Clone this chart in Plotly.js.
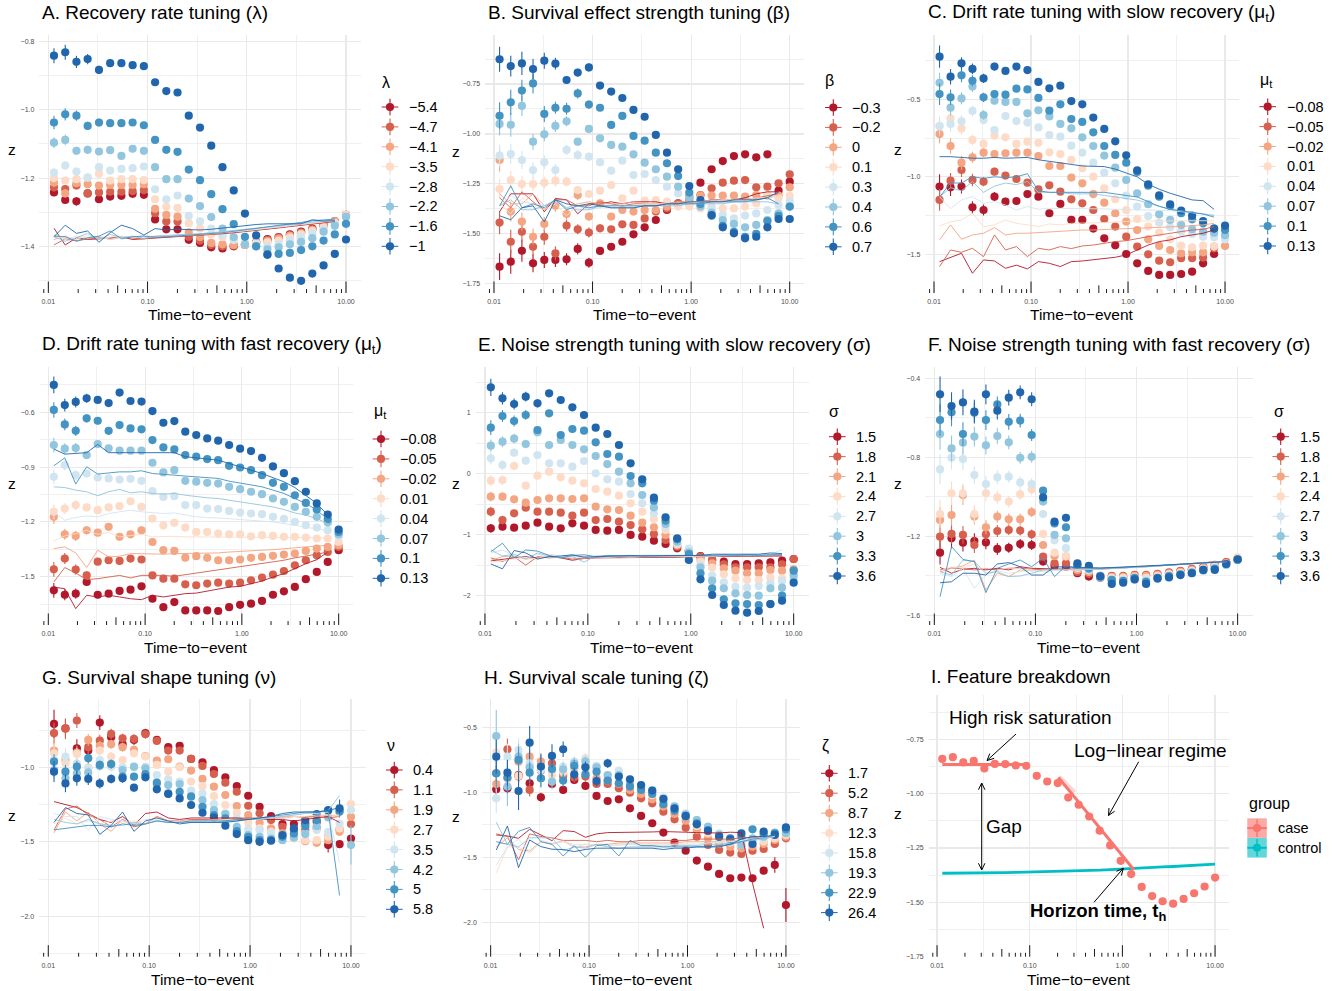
<!DOCTYPE html>
<html><head><meta charset="utf-8">
<script src="https://cdn.plot.ly/plotly-3.0.1.min.js"></script>
<style>html,body{margin:0;padding:0;background:#fff}#chart{width:1340px;height:991px}</style>
</head><body><div id="chart"></div>
<script>
// ---------------- DATA ----------------
const TIME = [0.0114,0.0148,0.0192,0.0249,0.0324,0.0420,0.0545,0.0707,0.0918,0.1191,0.1545,0.2005,0.2602,0.3377,0.4383,0.5689,0.7383,0.9581,1.243,1.614,2.094,2.718,3.527,4.577,5.940,7.709,10.0];

const LAB_A = ['−5.4','−4.7','−4.1','−3.5','−2.8','−2.2','−1.6','−1'];
const LAB_B = ['−0.3','−0.2','0','0.1','0.3','0.4','0.6','0.7'];
const LAB_C = ['−0.08','−0.05','−0.02','0.01','0.04','0.07','0.1','0.13'];
const LAB_D = ['−0.08','−0.05','−0.02','0.01','0.04','0.07','0.1','0.13'];
const LAB_E = ['1.5','1.8','2.1','2.4','2.7','3','3.3','3.6'];
const LAB_F = ['1.5','1.8','2.1','2.4','2.7','3','3.3','3.6'];
const LAB_G = ['0.4','1.1','1.9','2.7','3.5','4.2','5','5.8'];
const LAB_H = ['1.7','5.2','8.7','12.3','15.8','19.3','22.9','26.4'];
const LAB_I = ['case','control'];

const Z_A = [
[-1.242,-1.264,-1.268,-1.245,-1.262,-1.254,-1.252,-1.246,-1.249,-1.321,-1.35,-1.35,-1.381,-1.39,-1.403,-1.406,-1.40,-1.394,-1.388,-1.379,-1.373,-1.365,-1.357,-1.348,-1.338,-1.327,-1.308],
[-1.227,-1.232,-1.222,-1.245,-1.242,-1.24,-1.24,-1.238,-1.235,-1.303,-1.327,-1.327,-1.372,-1.383,-1.396,-1.40,-1.398,-1.396,-1.388,-1.381,-1.374,-1.367,-1.359,-1.35,-1.339,-1.327,-1.308],
[-1.213,-1.245,-1.215,-1.218,-1.222,-1.22,-1.22,-1.22,-1.218,-1.29,-1.308,-1.313,-1.359,-1.373,-1.39,-1.394,-1.396,-1.396,-1.391,-1.385,-1.377,-1.369,-1.362,-1.352,-1.34,-1.327,-1.308],
[-1.20,-1.207,-1.203,-1.199,-1.187,-1.207,-1.203,-1.203,-1.206,-1.262,-1.284,-1.287,-1.332,-1.348,-1.365,-1.373,-1.381,-1.388,-1.39,-1.388,-1.383,-1.374,-1.365,-1.355,-1.344,-1.331,-1.308],
[-1.184,-1.163,-1.181,-1.198,-1.168,-1.178,-1.173,-1.171,-1.166,-1.233,-1.262,-1.251,-1.311,-1.327,-1.348,-1.367,-1.381,-1.394,-1.396,-1.399,-1.394,-1.383,-1.373,-1.362,-1.35,-1.334,-1.315],
[-1.096,-1.088,-1.12,-1.117,-1.122,-1.118,-1.135,-1.114,-1.12,-1.168,-1.203,-1.203,-1.26,-1.282,-1.314,-1.348,-1.373,-1.394,-1.40,-1.409,-1.403,-1.394,-1.387,-1.376,-1.357,-1.34,-1.313],
[-1.037,-1.013,-1.017,-1.047,-1.037,-1.039,-1.039,-1.037,-1.045,-1.088,-1.117,-1.123,-1.175,-1.206,-1.247,-1.291,-1.335,-1.372,-1.40,-1.423,-1.422,-1.419,-1.411,-1.40,-1.383,-1.365,-1.334],
[-0.841,-0.831,-0.859,-0.851,-0.883,-0.863,-0.863,-0.869,-0.872,-0.919,-0.945,-0.949,-1.017,-1.052,-1.105,-1.168,-1.236,-1.304,-1.368,-1.425,-1.465,-1.492,-1.501,-1.48,-1.456,-1.422,-1.38]];
const ERR_A = [
[0.01,0.012,0.012,0.01,0.01,0.008,0.008,0.008,0.008],
[0.012,0.012,0.01,0.01,0.01,0.008,0.008,0.008,0.008],
[0.012,0.012,0.01,0.01,0.01,0.008,0.008,0.008,0.008],
[0.012,0.012,0.01,0.01,0.01,0.008,0.008,0.008,0.008],
[0.013,0.013,0.012,0.01,0.01,0.01,0.008,0.008,0.008],
[0.016,0.016,0.012,0.012,0.01,0.01,0.01,0.01,0.01],
[0.02,0.018,0.015,0.012,0.012,0.01,0.01,0.01,0.01],
[0.022,0.022,0.018,0.015,0.012,0.01,0.01,0.01,0.01]];
const CTRL_A = [
[-1.347,-1.396,-1.375,-1.38,-1.378,-1.375,-1.372,-1.38,-1.378,-1.376,-1.375,-1.372,-1.37,-1.368,-1.366,-1.363,-1.36,-1.357,-1.353,-1.35,-1.346,-1.342,-1.338,-1.334,-1.33,-1.327],
[-1.396,-1.378,-1.383,-1.38,-1.375,-1.378,-1.372,-1.376,-1.378,-1.374,-1.373,-1.371,-1.369,-1.367,-1.365,-1.362,-1.359,-1.356,-1.352,-1.349,-1.345,-1.341,-1.337,-1.333,-1.329,-1.326],
[-1.38,-1.37,-1.385,-1.375,-1.372,-1.38,-1.374,-1.373,-1.376,-1.372,-1.371,-1.37,-1.368,-1.366,-1.364,-1.361,-1.358,-1.355,-1.351,-1.348,-1.344,-1.34,-1.336,-1.332,-1.328,-1.325],
[-1.37,-1.375,-1.38,-1.368,-1.378,-1.373,-1.37,-1.375,-1.372,-1.37,-1.369,-1.368,-1.366,-1.364,-1.362,-1.36,-1.357,-1.354,-1.35,-1.347,-1.343,-1.339,-1.335,-1.331,-1.327,-1.324],
[-1.365,-1.38,-1.37,-1.375,-1.37,-1.38,-1.372,-1.371,-1.37,-1.372,-1.37,-1.369,-1.367,-1.365,-1.363,-1.36,-1.357,-1.354,-1.35,-1.346,-1.342,-1.338,-1.334,-1.33,-1.327,-1.324],
[-1.372,-1.385,-1.375,-1.362,-1.38,-1.365,-1.375,-1.37,-1.377,-1.37,-1.368,-1.367,-1.365,-1.363,-1.36,-1.357,-1.354,-1.35,-1.347,-1.343,-1.34,-1.336,-1.332,-1.328,-1.325,-1.322],
[-1.37,-1.372,-1.385,-1.375,-1.37,-1.355,-1.378,-1.372,-1.37,-1.373,-1.372,-1.37,-1.368,-1.366,-1.363,-1.36,-1.356,-1.352,-1.348,-1.344,-1.34,-1.335,-1.33,-1.325,-1.322,-1.32],
[-1.372,-1.338,-1.362,-1.355,-1.388,-1.36,-1.338,-1.348,-1.367,-1.348,-1.352,-1.35,-1.351,-1.352,-1.35,-1.346,-1.343,-1.34,-1.336,-1.334,-1.334,-1.336,-1.334,-1.322,-1.326,-1.325]];

const Z_B = [
[-1.665,-1.64,-1.585,-1.648,-1.631,-1.631,-1.628,-1.576,-1.645,-1.586,-1.565,-1.54,-1.503,-1.468,-1.431,-1.381,-1.348,-1.314,-1.244,-1.177,-1.136,-1.111,-1.102,-1.117,-1.102,-1.284,-1.239],
[-1.444,-1.54,-1.49,-1.565,-1.515,-1.598,-1.459,-1.478,-1.494,-1.473,-1.478,-1.453,-1.456,-1.423,-1.389,-1.373,-1.348,-1.331,-1.306,-1.272,-1.244,-1.234,-1.231,-1.267,-1.264,-1.247,-1.202],
[-1.13,-1.389,-1.439,-1.515,-1.451,-1.36,-1.401,-1.306,-1.414,-1.348,-1.414,-1.381,-1.389,-1.381,-1.381,-1.364,-1.356,-1.348,-1.309,-1.309,-1.309,-1.309,-1.314,-1.306,-1.309,-1.309,-1.267],
[-1.276,-1.231,-1.251,-1.251,-1.244,-1.234,-1.239,-1.281,-1.301,-1.284,-1.256,-1.323,-1.284,-1.334,-1.331,-1.339,-1.364,-1.364,-1.373,-1.364,-1.373,-1.373,-1.364,-1.348,-1.309,-1.322,-1.311],
[-1.109,-1.101,-1.131,-1.181,-1.142,-1.181,-1.08,-1.106,-1.114,-1.142,-1.184,-1.134,-1.206,-1.201,-1.231,-1.264,-1.298,-1.314,-1.348,-1.373,-1.406,-1.423,-1.409,-1.398,-1.381,-1.356,-1.339],
[-0.95,-0.954,-0.86,-1.039,-1.002,-0.96,-0.937,-1.039,-0.975,-1.022,-1.055,-1.064,-1.102,-1.144,-1.177,-1.214,-1.264,-1.319,-1.364,-1.394,-1.431,-1.451,-1.468,-1.456,-1.431,-1.398,-1.364],
[-0.909,-0.842,-0.783,-0.747,-0.90,-0.869,-0.874,-0.797,-0.853,-0.869,-0.955,-0.91,-1.01,-1.034,-1.094,-1.147,-1.211,-1.294,-1.351,-1.41,-1.46,-1.49,-1.515,-1.50,-1.436,-1.41,-1.364],
[-0.626,-0.66,-0.647,-0.675,-0.633,-0.648,-0.73,-0.693,-0.667,-0.758,-0.788,-0.82,-0.88,-0.914,-1.005,-1.094,-1.177,-1.261,-1.331,-1.406,-1.468,-1.498,-1.523,-1.515,-1.468,-1.426,-1.426]];
const ERR_B = [
[0.067,0.06,0.055,0.045,0.04,0.035,0.03,0.028,0.025,0.02,0.018],
[0.058,0.06,0.05,0.045,0.04,0.035,0.03,0.025,0.025,0.02],
[0.058,0.05,0.045,0.04,0.035,0.03,0.028,0.025,0.02,0.02],
[0.05,0.045,0.04,0.035,0.03,0.03,0.025,0.02,0.02],
[0.055,0.05,0.045,0.04,0.035,0.03,0.025,0.025,0.02],
[0.058,0.06,0.05,0.04,0.035,0.03,0.025,0.02,0.02],
[0.067,0.063,0.054,0.05,0.04,0.03,0.03,0.025,0.02,0.015],
[0.063,0.052,0.058,0.05,0.04,0.03,0.02,0.02,0.02,0.012]];
const CTRL_B = [
[-1.39,-1.30,-1.30,-1.30,-1.39,-1.323,-1.33,-1.40,-1.35,-1.35,-1.34,-1.35,-1.34,-1.34,-1.34,-1.35,-1.35,-1.34,-1.34,-1.33,-1.33,-1.33,-1.32,-1.30,-1.29,-1.29],
[-1.32,-1.37,-1.29,-1.34,-1.38,-1.33,-1.33,-1.36,-1.36,-1.34,-1.35,-1.36,-1.35,-1.35,-1.35,-1.35,-1.34,-1.34,-1.34,-1.34,-1.33,-1.33,-1.33,-1.32,-1.31,-1.30],
[-1.30,-1.35,-1.35,-1.30,-1.36,-1.34,-1.37,-1.35,-1.34,-1.35,-1.35,-1.35,-1.34,-1.35,-1.35,-1.35,-1.34,-1.34,-1.34,-1.33,-1.33,-1.33,-1.33,-1.32,-1.32,-1.31],
[-1.35,-1.40,-1.32,-1.36,-1.38,-1.35,-1.41,-1.36,-1.37,-1.36,-1.36,-1.36,-1.36,-1.35,-1.35,-1.35,-1.35,-1.34,-1.34,-1.34,-1.33,-1.33,-1.33,-1.32,-1.32,-1.31],
[-1.36,-1.31,-1.34,-1.35,-1.36,-1.34,-1.37,-1.36,-1.38,-1.37,-1.36,-1.36,-1.36,-1.36,-1.36,-1.35,-1.35,-1.35,-1.34,-1.34,-1.34,-1.34,-1.33,-1.33,-1.32,-1.31],
[-1.36,-1.33,-1.38,-1.38,-1.36,-1.33,-1.37,-1.38,-1.38,-1.36,-1.37,-1.37,-1.37,-1.36,-1.36,-1.36,-1.36,-1.35,-1.35,-1.35,-1.35,-1.34,-1.34,-1.34,-1.34,-1.35],
[-1.36,-1.26,-1.37,-1.35,-1.37,-1.33,-1.38,-1.36,-1.37,-1.36,-1.36,-1.36,-1.36,-1.36,-1.36,-1.35,-1.35,-1.35,-1.35,-1.34,-1.34,-1.34,-1.34,-1.33,-1.32,-1.35],
[-1.41,-1.43,-1.37,-1.36,-1.44,-1.33,-1.35,-1.36,-1.35,-1.36,-1.37,-1.37,-1.37,-1.36,-1.36,-1.35,-1.35,-1.34,-1.34,-1.34,-1.34,-1.33,-1.33,-1.33,-1.32,-1.29]];

const Z_C = [
[-1.063,-1.068,-1.063,-1.197,-1.214,-1.128,-1.16,-1.156,-1.111,-1.128,-1.235,-1.175,-1.278,-1.278,-1.334,-1.397,-1.442,-1.498,-1.558,-1.607,-1.633,-1.633,-1.627,-1.612,-1.558,-1.498,null],
[-1.149,-1.025,-0.956,-1.02,-1.031,-0.967,-0.992,-1.014,-1.038,-1.081,-1.055,-1.096,-1.145,-1.171,-1.214,-1.272,-1.321,-1.386,-1.45,-1.50,-1.541,-1.551,-1.525,-1.525,-1.521,-1.461,null],
[-0.724,-0.801,-0.909,-0.874,-0.844,-0.853,-0.848,-0.844,-0.844,-0.866,-0.93,-0.93,-1.005,-1.042,-1.111,-1.167,-1.235,-1.289,-1.343,-1.403,-1.446,-1.472,-1.493,-1.487,-1.487,-1.45,-1.446],
[-0.672,-0.623,-0.689,-0.762,-0.788,-0.734,-0.745,-0.788,-0.773,-0.78,-0.842,-0.853,-0.891,-0.945,-0.999,-1.074,-1.145,-1.214,-1.272,-1.321,-1.36,-1.403,-1.444,-1.455,-1.444,-1.45,-1.40],
[-0.672,-0.659,-0.642,-0.575,-0.633,-0.698,-0.608,-0.64,-0.65,-0.681,-0.73,-0.741,-0.799,-0.844,-0.909,-0.973,-1.042,-1.121,-1.192,-1.253,-1.296,-1.326,-1.354,-1.369,-1.386,-1.39,-1.403],
[-0.393,-0.554,-0.494,-0.418,-0.601,-0.509,-0.517,-0.517,-0.59,-0.571,-0.61,-0.659,-0.687,-0.745,-0.801,-0.863,-0.941,-1.02,-1.106,-1.177,-1.242,-1.278,-1.31,-1.338,-1.354,-1.36,-1.377],
[-0.466,-0.487,-0.345,-0.38,-0.487,-0.466,-0.47,-0.431,-0.436,-0.491,-0.573,-0.532,-0.627,-0.646,-0.713,-0.801,-0.859,-0.909,-0.969,-1.057,-1.128,-1.188,-1.235,-1.274,-1.30,-1.334,-1.343],
[-0.225,-0.354,-0.268,-0.304,-0.365,-0.289,-0.317,-0.289,-0.311,-0.388,-0.429,-0.412,-0.511,-0.532,-0.618,-0.691,-0.771,-0.861,-0.958,-1.048,-1.119,-1.177,-1.218,-1.25,-1.285,-1.334,-1.315]];
const ERR_C = [
[0.08,0.055,0.045,0.04,0.035,0.03,0.025,0.02,0.02],
[0.07,0.05,0.045,0.04,0.03,0.025,0.02,0.02,0.02],
[0.06,0.05,0.045,0.035,0.03,0.025,0.02,0.02,0.02],
[0.06,0.05,0.04,0.035,0.03,0.025,0.02,0.02,0.02],
[0.06,0.05,0.04,0.035,0.03,0.025,0.02,0.02,0.02],
[0.065,0.05,0.04,0.035,0.03,0.025,0.02,0.02,0.02],
[0.07,0.05,0.045,0.035,0.03,0.025,0.02,0.02,0.02],
[0.072,0.05,0.04,0.035,0.03,0.025,0.02,0.02,0.02]];
const CTRL_C = [
[-1.547,-1.519,-1.493,-1.622,-1.536,-1.543,-1.59,-1.57,-1.594,-1.547,-1.558,-1.579,-1.547,-1.543,-1.536,-1.526,-1.519,-1.504,-1.472,-1.44,-1.418,-1.407,-1.386,-1.375,-1.364,-1.343],
[-1.579,-1.472,-1.487,-1.461,-1.515,-1.375,-1.472,-1.45,-1.515,-1.461,-1.472,-1.45,-1.463,-1.446,-1.44,-1.429,-1.418,-1.412,-1.397,-1.386,-1.375,-1.364,-1.354,-1.343,-1.339,-1.321],
[-1.407,-1.31,-1.403,-1.375,-1.364,-1.328,-1.375,-1.364,-1.364,-1.36,-1.354,-1.349,-1.349,-1.343,-1.343,-1.339,-1.336,-1.334,-1.332,-1.33,-1.328,-1.325,-1.32,-1.315,-1.31,-1.30],
[-1.317,-1.29,-1.278,-1.235,-1.321,-1.31,-1.278,-1.30,-1.31,-1.321,-1.304,-1.31,-1.30,-1.30,-1.297,-1.295,-1.29,-1.288,-1.285,-1.284,-1.283,-1.282,-1.282,-1.282,-1.283,-1.283],
[-1.128,-1.205,-1.149,-1.128,-1.171,-1.16,-1.182,-1.214,-1.192,-1.209,-1.203,-1.203,-1.203,-1.203,-1.205,-1.207,-1.209,-1.21,-1.212,-1.214,-1.216,-1.218,-1.225,-1.23,-1.238,-1.246],
[-1.13,-1.07,-1.09,-1.03,-1.10,-1.06,-1.04,-1.05,-1.03,-1.10,-1.10,-1.10,-1.11,-1.11,-1.11,-1.12,-1.13,-1.14,-1.15,-1.17,-1.19,-1.21,-1.22,-1.23,-1.24,-1.25],
[-1.13,-1.04,-1.04,-1.0,-1.01,-1.0,-1.005,-1.0,-0.98,-1.09,-1.10,-1.10,-1.10,-1.10,-1.10,-1.10,-1.11,-1.12,-1.13,-1.16,-1.19,-1.21,-1.22,-1.23,-1.24,-1.26],
[-0.87,-0.87,-0.875,-0.88,-0.88,-0.875,-0.88,-0.878,-0.875,-0.89,-0.90,-0.91,-0.924,-0.93,-0.932,-0.934,-0.95,-0.977,-1.0,-1.048,-1.08,-1.106,-1.13,-1.149,-1.154,-1.21]];

const Z_D = [
[-1.575,-1.599,-1.593,-1.529,-1.599,-1.593,-1.578,-1.571,-1.553,-1.621,-1.667,-1.639,-1.685,-1.685,-1.685,-1.688,-1.667,-1.654,-1.648,-1.633,-1.599,-1.58,-1.556,-1.514,-1.474,-1.419,-1.355],
[-1.46,-1.401,-1.461,-1.493,-1.418,-1.41,-1.414,-1.401,-1.406,-1.493,-1.511,-1.511,-1.542,-1.547,-1.538,-1.533,-1.538,-1.533,-1.52,-1.505,-1.489,-1.469,-1.438,-1.41,-1.383,-1.365,-1.337],
[-1.172,-1.268,-1.277,-1.246,-1.259,-1.227,-1.282,-1.268,-1.246,-1.31,-1.355,-1.359,-1.396,-1.388,-1.397,-1.41,-1.41,-1.406,-1.397,-1.392,-1.386,-1.379,-1.373,-1.359,-1.346,-1.337,-1.328],
[-1.145,-1.127,-1.108,-1.121,-1.136,-1.121,-1.114,-1.087,-1.118,-1.182,-1.22,-1.205,-1.231,-1.255,-1.255,-1.264,-1.268,-1.268,-1.279,-1.273,-1.277,-1.282,-1.282,-1.286,-1.291,-1.291,-1.31],
[-0.953,-0.889,-0.944,-0.935,-0.957,-0.962,-0.968,-0.964,-0.975,-1.032,-1.063,-1.059,-1.108,-1.108,-1.127,-1.13,-1.14,-1.149,-1.154,-1.158,-1.172,-1.183,-1.2,-1.218,-1.231,-1.246,-1.279],
[-0.779,-0.799,-0.796,-0.834,-0.774,-0.797,-0.81,-0.81,-0.81,-0.876,-0.929,-0.917,-0.975,-0.98,-0.986,-0.99,-1.008,-1.021,-1.035,-1.048,-1.072,-1.09,-1.118,-1.145,-1.172,-1.204,-1.268],
[-0.587,-0.666,-0.701,-0.633,-0.646,-0.701,-0.67,-0.688,-0.693,-0.752,-0.792,-0.803,-0.834,-0.843,-0.856,-0.862,-0.893,-0.902,-0.917,-0.944,-0.986,-1.008,-1.054,-1.096,-1.132,-1.185,-1.255],
[-0.45,-0.56,-0.543,-0.523,-0.532,-0.549,-0.492,-0.538,-0.541,-0.593,-0.657,-0.648,-0.706,-0.724,-0.743,-0.755,-0.779,-0.799,-0.812,-0.849,-0.896,-0.933,-0.977,-1.035,-1.099,-1.16,-1.242]];
const ERR_D = [
[0.04,0.03,0.028,0.022,0.02,0.015,0.015,0.015,0.015],
[0.04,0.03,0.028,0.022,0.02,0.015,0.015,0.015,0.015],
[0.04,0.03,0.028,0.022,0.02,0.015,0.015,0.015,0.015],
[0.04,0.03,0.028,0.022,0.02,0.015,0.015,0.015,0.015],
[0.04,0.03,0.028,0.022,0.02,0.015,0.015,0.015,0.015],
[0.04,0.03,0.028,0.022,0.02,0.015,0.015,0.015,0.015],
[0.042,0.032,0.028,0.022,0.02,0.016,0.015,0.015,0.015],
[0.046,0.035,0.03,0.025,0.02,0.018,0.015,0.015,0.015]];
const CTRL_D = [
[-1.557,-1.566,-1.675,-1.602,-1.611,-1.602,-1.611,-1.621,-1.626,-1.602,-1.611,-1.602,-1.593,-1.59,-1.58,-1.571,-1.557,-1.553,-1.538,-1.524,-1.502,-1.483,-1.456,-1.429,-1.407,-1.365],
[-1.529,-1.45,-1.48,-1.516,-1.511,-1.502,-1.493,-1.507,-1.493,-1.493,-1.493,-1.498,-1.489,-1.48,-1.474,-1.465,-1.456,-1.447,-1.438,-1.429,-1.419,-1.41,-1.397,-1.388,-1.377,-1.365],
[-1.346,-1.337,-1.37,-1.45,-1.355,-1.392,-1.388,-1.374,-1.374,-1.377,-1.377,-1.374,-1.374,-1.37,-1.37,-1.37,-1.365,-1.363,-1.359,-1.355,-1.352,-1.346,-1.341,-1.337,-1.333,-1.328],
[-1.304,-1.277,-1.264,-1.246,-1.268,-1.258,-1.282,-1.273,-1.268,-1.282,-1.279,-1.279,-1.282,-1.282,-1.282,-1.282,-1.282,-1.282,-1.286,-1.286,-1.286,-1.286,-1.286,-1.286,-1.286,-1.291],
[-1.145,-1.191,-1.176,-1.167,-1.172,-1.154,-1.145,-1.136,-1.145,-1.151,-1.154,-1.151,-1.163,-1.172,-1.176,-1.178,-1.182,-1.187,-1.191,-1.196,-1.2,-1.209,-1.218,-1.227,-1.238,-1.249],
[-1.008,-1.012,-1.026,-1.035,-1.057,-1.035,-1.022,-1.041,-1.035,-1.044,-1.048,-1.044,-1.054,-1.063,-1.068,-1.072,-1.081,-1.09,-1.103,-1.108,-1.118,-1.132,-1.151,-1.163,-1.182,-1.209],
[-0.893,-0.849,-0.993,-0.898,-0.938,-0.931,-0.926,-0.926,-0.92,-0.935,-0.938,-0.944,-0.949,-0.953,-0.957,-0.962,-0.977,-0.986,-0.995,-1.008,-1.026,-1.044,-1.072,-1.099,-1.136,-1.185],
[-0.801,-0.829,-0.825,-0.821,-0.776,-0.821,-0.821,-0.821,-0.821,-0.821,-0.821,-0.821,-0.843,-0.849,-0.856,-0.862,-0.88,-0.898,-0.913,-0.935,-0.958,-0.98,-1.012,-1.054,-1.099,-1.163]];

const Z_E = [
[-0.896,-0.869,-0.885,-0.852,-0.803,-0.869,-0.896,-0.814,-0.852,-0.923,-0.934,-0.923,-1.005,-1.033,-1.098,-1.153,-1.224,-1.27,-1.35,-1.415,-1.443,-1.481,-1.481,-1.47,-1.454,-1.426,-1.399],
[-0.623,-0.76,-0.65,-0.557,-0.623,-0.623,-0.639,-0.689,-0.639,-0.76,-0.743,-0.787,-0.842,-0.913,-0.989,-1.087,-1.197,-1.26,-1.361,-1.415,-1.486,-1.536,-1.536,-1.536,-1.536,-1.486,-1.399],
[-0.377,-0.377,-0.421,-0.475,-0.432,-0.404,-0.404,-0.415,-0.404,-0.541,-0.585,-0.596,-0.689,-0.803,-0.88,-1.005,-1.175,-1.25,-1.404,-1.47,-1.552,-1.59,-1.634,-1.634,-1.579,-1.59,-1.568],
[-0.115,-0.104,0.126,-0.197,-0.033,0.033,-0.06,-0.115,-0.158,-0.251,-0.295,-0.361,-0.486,-0.623,-0.743,-0.923,-1.158,-1.24,-1.443,-1.541,-1.65,-1.716,-1.743,-1.743,-1.705,-1.716,-1.645],
[0.251,0.142,0.344,0.213,0.306,0.169,0.169,0.115,0.208,0.005,-0.093,-0.131,-0.333,-0.486,-0.65,-0.869,-1.142,-1.23,-1.497,-1.672,-1.781,-1.852,-1.869,-1.842,-1.798,-1.754,-1.732],
[0.459,0.525,0.574,0.486,0.678,0.47,0.552,0.47,0.399,0.29,0.158,0.033,-0.158,-0.35,-0.552,-0.825,-1.115,-1.29,-1.536,-1.754,-1.88,-1.962,-1.989,-2.0,-1.88,-1.869,-1.672],
[0.754,0.945,0.863,0.962,0.716,0.989,0.634,0.732,0.705,0.514,0.322,0.279,-0.038,-0.158,-0.443,-0.77,-1.077,-1.317,-1.634,-1.88,-2.06,-2.126,-2.137,-2.153,-2.137,-2.0,-1.59],
[1.415,1.235,1.142,1.262,1.153,1.317,1.208,1.087,0.962,0.754,0.65,0.47,0.169,-0.093,-0.393,-0.716,-1.06,-1.415,-1.732,-1.989,-2.153,-2.246,-2.279,-2.251,-2.137,-2.082,-1.787]];
const ERR_E = [
[0.07,0.06,0.05,0.05,0.04,0.04,0.03,0.03,0.03],
[0.08,0.07,0.06,0.05,0.04,0.04,0.04,0.03,0.03],
[0.08,0.07,0.06,0.05,0.05,0.04,0.04,0.03,0.03],
[0.09,0.08,0.07,0.06,0.05,0.04,0.04,0.04,0.03],
[0.1,0.08,0.07,0.06,0.05,0.05,0.04,0.04,0.03],
[0.1,0.09,0.08,0.07,0.06,0.05,0.04,0.04,0.04],
[0.12,0.1,0.09,0.08,0.06,0.05,0.05,0.04,0.04],
[0.14,0.1,0.09,0.08,0.07,0.06,0.05,0.05,0.04]];
const CTRL_E = [
[-1.43,-1.40,-1.38,-1.36,-1.38,-1.36,-1.38,-1.42,-1.39,-1.38,-1.38,-1.38,-1.37,-1.37,-1.37,-1.37,-1.37,-1.36,-1.36,-1.36,-1.36,-1.35,-1.35,-1.35,-1.35,-1.35],
[-1.38,-1.44,-1.36,-1.50,-1.36,-1.38,-1.37,-1.40,-1.38,-1.37,-1.37,-1.37,-1.37,-1.36,-1.36,-1.36,-1.36,-1.36,-1.36,-1.35,-1.35,-1.35,-1.34,-1.34,-1.34,-1.34],
[-1.42,-1.36,-1.35,-1.40,-1.38,-1.36,-1.37,-1.35,-1.36,-1.37,-1.37,-1.36,-1.36,-1.37,-1.36,-1.36,-1.36,-1.36,-1.35,-1.35,-1.35,-1.34,-1.34,-1.34,-1.33,-1.33],
[-1.45,-1.42,-1.40,-1.38,-1.40,-1.32,-1.35,-1.33,-1.38,-1.36,-1.37,-1.36,-1.37,-1.36,-1.36,-1.36,-1.35,-1.35,-1.35,-1.35,-1.34,-1.34,-1.34,-1.33,-1.33,-1.32],
[-1.30,-1.25,-1.35,-1.38,-1.32,-1.37,-1.35,-1.36,-1.38,-1.36,-1.36,-1.35,-1.36,-1.35,-1.36,-1.35,-1.35,-1.35,-1.34,-1.35,-1.34,-1.34,-1.33,-1.33,-1.32,-1.25],
[-1.25,-1.35,-1.32,-1.40,-1.30,-1.35,-1.38,-1.36,-1.45,-1.35,-1.36,-1.36,-1.35,-1.35,-1.36,-1.35,-1.35,-1.34,-1.35,-1.35,-1.34,-1.34,-1.35,-1.34,-1.33,-1.33],
[-1.28,-1.14,-1.38,-1.25,-1.27,-1.34,-1.38,-1.34,-1.33,-1.36,-1.34,-1.35,-1.35,-1.34,-1.34,-1.34,-1.35,-1.34,-1.34,-1.34,-1.33,-1.34,-1.33,-1.34,-1.33,-1.33],
[-1.48,-1.56,-1.26,-1.30,-1.40,-1.36,-1.35,-1.33,-1.37,-1.36,-1.35,-1.34,-1.34,-1.35,-1.35,-1.35,-1.35,-1.34,-1.34,-1.32,-1.32,-1.33,-1.33,-1.32,-1.30,-1.31]];

const Z_F = [
[-1.283,-1.21,-1.232,-1.224,-1.231,-1.264,-1.258,-1.239,-1.244,-1.328,-1.35,-1.354,-1.387,-1.404,-1.41,-1.415,-1.41,-1.405,-1.40,-1.395,-1.387,-1.378,-1.368,-1.358,-1.347,-1.332,-1.315],
[-1.202,-1.188,-1.193,-1.244,-1.19,-1.173,-1.168,-1.171,-1.19,-1.303,-1.337,-1.337,-1.38,-1.39,-1.40,-1.40,-1.40,-1.395,-1.395,-1.39,-1.382,-1.375,-1.365,-1.355,-1.345,-1.33,-1.318],
[-1.117,-1.092,-0.991,-1.1,-1.154,-1.1,-1.114,-1.114,-1.077,-1.244,-1.30,-1.303,-1.37,-1.38,-1.40,-1.405,-1.405,-1.40,-1.40,-1.395,-1.388,-1.38,-1.37,-1.36,-1.35,-1.335,-1.315],
[-1.087,-0.982,-0.982,-1.087,-0.982,-1.003,-1.024,-0.987,-0.962,-1.188,-1.283,-1.30,-1.36,-1.372,-1.40,-1.41,-1.41,-1.405,-1.41,-1.40,-1.392,-1.385,-1.375,-1.365,-1.355,-1.34,-1.305],
[-0.861,-0.802,-0.809,-0.89,-0.935,-0.901,-0.898,-0.927,-0.935,-1.087,-1.22,-1.26,-1.355,-1.37,-1.405,-1.415,-1.42,-1.412,-1.418,-1.41,-1.398,-1.39,-1.38,-1.37,-1.36,-1.342,-1.318],
[-0.682,-0.755,-0.726,-0.695,-0.739,-0.692,-0.724,-0.802,-0.797,-1.024,-1.193,-1.21,-1.35,-1.367,-1.41,-1.425,-1.428,-1.418,-1.428,-1.415,-1.404,-1.396,-1.387,-1.374,-1.362,-1.345,-1.32],
[-0.611,-0.572,-0.682,-0.574,-0.611,-0.532,-0.62,-0.614,-0.687,-0.969,-1.135,-1.154,-1.345,-1.362,-1.401,-1.421,-1.425,-1.41,-1.43,-1.41,-1.402,-1.392,-1.384,-1.37,-1.365,-1.34,-1.318],
[-0.481,-0.54,-0.522,-0.569,-0.481,-0.564,-0.498,-0.471,-0.506,-1.003,-1.126,-1.106,-1.337,-1.35,-1.404,-1.441,-1.435,-1.418,-1.441,-1.413,-1.408,-1.396,-1.387,-1.37,-1.37,-1.34,-1.316]];
const ERR_F = [
[0.06,0.05,0.045,0.04,0.035,0.03,0.025,0.025,0.025],
[0.06,0.05,0.045,0.04,0.035,0.03,0.025,0.025,0.025],
[0.065,0.055,0.05,0.04,0.035,0.03,0.03,0.03,0.025],
[0.07,0.06,0.05,0.045,0.04,0.035,0.03,0.03,0.03],
[0.075,0.06,0.055,0.045,0.04,0.035,0.03,0.03,0.03],
[0.08,0.065,0.06,0.05,0.045,0.04,0.035,0.03,0.03],
[0.08,0.07,0.06,0.05,0.05,0.04,0.04,0.035,0.03],
[0.09,0.07,0.065,0.06,0.05,0.045,0.04,0.035,0.035]];
const CTRL_F = [
[-1.357,-1.387,-1.367,-1.362,-1.37,-1.362,-1.37,-1.354,-1.362,-1.365,-1.365,-1.367,-1.367,-1.367,-1.365,-1.363,-1.36,-1.357,-1.354,-1.35,-1.346,-1.342,-1.338,-1.334,-1.33,-1.325],
[-1.37,-1.36,-1.365,-1.37,-1.365,-1.37,-1.362,-1.36,-1.368,-1.368,-1.366,-1.366,-1.366,-1.365,-1.364,-1.362,-1.36,-1.357,-1.354,-1.35,-1.346,-1.342,-1.338,-1.334,-1.33,-1.326],
[-1.38,-1.362,-1.35,-1.32,-1.472,-1.387,-1.404,-1.37,-1.375,-1.37,-1.37,-1.368,-1.368,-1.367,-1.365,-1.362,-1.36,-1.357,-1.353,-1.349,-1.345,-1.341,-1.337,-1.333,-1.329,-1.326],
[-1.375,-1.355,-1.36,-1.34,-1.39,-1.37,-1.36,-1.365,-1.37,-1.375,-1.372,-1.37,-1.369,-1.368,-1.366,-1.363,-1.36,-1.357,-1.354,-1.35,-1.346,-1.342,-1.338,-1.334,-1.33,-1.327],
[-1.387,-1.404,-1.362,-1.463,-1.396,-1.374,-1.387,-1.379,-1.37,-1.379,-1.372,-1.37,-1.369,-1.368,-1.366,-1.363,-1.36,-1.357,-1.354,-1.35,-1.346,-1.342,-1.338,-1.334,-1.33,-1.328],
[-1.379,-1.396,-1.32,-1.328,-1.387,-1.379,-1.404,-1.401,-1.387,-1.37,-1.367,-1.37,-1.37,-1.368,-1.366,-1.363,-1.36,-1.357,-1.354,-1.35,-1.346,-1.342,-1.338,-1.334,-1.331,-1.328],
[-1.506,-1.252,-1.317,-1.328,-1.485,-1.362,-1.34,-1.32,-1.354,-1.311,-1.404,-1.35,-1.36,-1.362,-1.362,-1.36,-1.358,-1.355,-1.352,-1.349,-1.346,-1.342,-1.338,-1.334,-1.331,-1.328],
[-1.435,-1.43,-1.387,-1.387,-1.396,-1.34,-1.333,-1.354,-1.396,-1.396,-1.354,-1.355,-1.358,-1.36,-1.36,-1.358,-1.356,-1.353,-1.35,-1.347,-1.344,-1.34,-1.337,-1.334,-1.331,-1.328]];

const Z_G = [
[-0.709,-0.738,-0.872,-0.888,-0.70,-0.798,-0.845,-0.816,-0.771,-0.816,-0.865,-0.856,-0.944,-0.966,-1.018,-1.067,-1.126,-1.191,-1.265,-1.327,-1.381,-1.381,-1.377,-1.365,-1.522,-1.516,-1.478],
[-0.771,-0.742,-0.686,-0.865,-0.821,-0.776,-0.805,-0.809,-0.778,-0.823,-0.888,-0.888,-0.944,-0.991,-1.045,-1.103,-1.164,-1.258,-1.309,-1.354,-1.399,-1.421,-1.421,-1.41,-1.466,-1.415,-1.381],
[-0.888,-0.951,-0.901,-0.816,-0.856,-0.845,-0.865,-0.883,-0.924,-0.955,-0.946,-0.996,-1.022,-1.078,-1.13,-1.186,-1.26,-1.321,-1.372,-1.41,-1.444,-1.466,-1.496,-1.507,-1.489,-1.433,-1.332],
[-0.906,-0.973,-0.91,-1.0,-0.888,-0.928,-0.951,-0.906,-0.928,-0.984,-1.029,-1.0,-1.096,-1.126,-1.193,-1.253,-1.305,-1.372,-1.41,-1.433,-1.466,-1.478,-1.489,-1.489,-1.466,-1.41,-1.247],
[-0.951,-0.928,-0.973,-1.007,-0.951,-0.996,-1.0,-1.0,-0.996,-1.052,-1.081,-1.096,-1.157,-1.175,-1.247,-1.309,-1.343,-1.417,-1.421,-1.444,-1.455,-1.455,-1.444,-1.421,-1.433,-1.377,-1.287],
[-1.018,-1.074,-1.04,-1.036,-0.991,-0.978,-1.018,-0.996,-1.007,-1.112,-1.119,-1.112,-1.193,-1.22,-1.287,-1.314,-1.399,-1.455,-1.466,-1.478,-1.489,-1.471,-1.448,-1.395,-1.336,-1.291,-1.522],
[-0.962,-1.029,-0.996,-0.939,-0.984,-0.978,-1.063,-1.063,-1.045,-1.103,-1.175,-1.164,-1.197,-1.265,-1.321,-1.343,-1.428,-1.466,-1.489,-1.489,-1.466,-1.444,-1.395,-1.354,-1.291,-1.298,null],
[-1.029,-1.108,-1.074,-1.078,-1.108,-1.078,-1.074,-1.137,-1.067,-1.148,-1.179,-1.209,-1.253,-1.305,-1.336,-1.392,-1.448,-1.489,-1.50,-1.493,-1.455,-1.41,-1.354,-1.314,-1.287,-1.276,null]];
const ERR_G = [
[0.095,0.06,0.06,0.05,0.05,0.04,0.04,0.035,0.03,null,null,null,null,null,null,null,null,null,null,null,null,null,null,null,0.05],
[0.07,0.07,0.05,0.045,0.04,0.035,0.03,0.03,0.03],
[0.06,0.05,0.045,0.04,0.035,0.03,0.03,0.03,0.025],
[0.05,0.045,0.04,0.035,0.03,0.03,0.025,0.025,0.02],
[0.05,0.06,0.04,0.035,0.03,0.03,0.025,0.025,0.02],
[0.05,0.045,0.04,0.035,0.03,0.03,0.025,0.025,0.02,null,null,null,null,null,null,null,null,null,null,null,null,null,null,null,null,null,0.13],
[0.05,0.045,0.04,0.035,0.03,0.03,0.025,0.025,0.02],
[0.07,0.06,0.05,0.04,0.035,0.03,0.03,0.025,0.025,null,null,null,null,null,null,null,null,null,null,null,null,null,null,null,null,0.06]];
const CTRL_G = [
[-1.23,-1.25,-1.27,-1.31,-1.35,-1.37,-1.33,-1.39,-1.31,-1.30,-1.34,-1.35,-1.34,-1.34,-1.34,-1.34,-1.34,-1.35,-1.35,-1.35,-1.35,-1.36,-1.35,-1.34,-1.33,-1.37],
[-1.42,-1.28,-1.26,-1.32,-1.35,-1.40,-1.35,-1.40,-1.38,-1.33,-1.36,-1.36,-1.35,-1.35,-1.35,-1.35,-1.34,-1.34,-1.34,-1.34,-1.34,-1.33,-1.33,-1.33,-1.34,-1.33],
[-1.44,-1.30,-1.36,-1.30,-1.38,-1.43,-1.35,-1.38,-1.38,-1.33,-1.36,-1.36,-1.36,-1.36,-1.35,-1.35,-1.35,-1.35,-1.34,-1.34,-1.33,-1.33,-1.34,-1.33,-1.32,-1.33],
[-1.38,-1.34,-1.38,-1.36,-1.38,-1.36,-1.37,-1.36,-1.38,-1.35,-1.37,-1.36,-1.36,-1.36,-1.36,-1.35,-1.35,-1.35,-1.34,-1.34,-1.34,-1.33,-1.33,-1.32,-1.32,-1.32],
[-1.31,-1.33,-1.33,-1.42,-1.33,-1.35,-1.36,-1.38,-1.35,-1.36,-1.36,-1.37,-1.37,-1.36,-1.36,-1.36,-1.36,-1.35,-1.35,-1.34,-1.33,-1.32,-1.31,-1.31,-1.30,-1.64],
[-1.35,-1.37,-1.38,-1.35,-1.38,-1.39,-1.39,-1.37,-1.38,-1.36,-1.37,-1.37,-1.37,-1.37,-1.37,-1.36,-1.36,-1.35,-1.35,-1.34,-1.33,-1.32,-1.31,-1.30,-1.29,-1.19],
[-1.42,-1.41,-1.40,-1.39,-1.39,-1.40,-1.38,-1.39,-1.38,-1.36,-1.37,-1.37,-1.36,-1.36,-1.36,-1.36,-1.35,-1.35,-1.34,-1.33,-1.32,-1.31,-1.30,-1.30,-1.29,-1.86],
[-1.37,-1.27,-1.31,-1.32,-1.45,-1.39,-1.30,-1.43,-1.36,-1.34,-1.36,-1.38,-1.37,-1.37,-1.37,-1.37,-1.36,-1.35,-1.34,-1.33,-1.31,-1.30,-1.30,-1.30,-1.29,-1.27]];

const Z_H = [
[-0.977,-0.969,-0.867,-0.931,-1.038,-0.936,-0.982,-0.905,-0.951,-1.028,-1.067,-1.054,-1.123,-1.182,-1.238,-1.31,-1.387,-1.449,-1.525,-1.572,-1.628,-1.661,-1.656,-1.661,-1.603,-1.559,-1.867],
[-0.854,-0.669,-0.879,-0.982,-0.833,-0.777,-0.874,-0.885,-0.879,-0.936,-0.936,-0.969,-1.003,-1.046,-1.085,-1.149,-1.208,-1.272,-1.341,-1.405,-1.444,-1.464,-1.474,-1.449,-1.436,-1.397,-1.354],
[-0.936,-0.892,-0.764,-0.726,-0.764,-0.828,-0.854,-0.815,-0.797,-0.892,-0.91,-0.936,-0.982,-1.013,-1.054,-1.11,-1.167,-1.218,-1.29,-1.354,-1.397,-1.418,-1.431,-1.418,-1.397,-1.367,-1.341],
[-0.695,-0.90,-0.874,-0.803,-0.823,-0.867,-0.841,-0.808,-0.738,-0.803,-0.867,-0.867,-0.944,-0.977,-1.021,-1.072,-1.136,-1.187,-1.259,-1.315,-1.367,-1.387,-1.405,-1.392,-1.379,-1.354,-1.328],
[-1.046,-0.726,-0.674,-0.777,-0.828,-0.828,-0.803,-0.764,-0.746,-0.797,-0.879,-0.833,-0.905,-0.944,-0.982,-1.038,-1.105,-1.162,-1.213,-1.277,-1.315,-1.354,-1.379,-1.362,-1.354,-1.328,-1.303],
[-0.567,-0.956,-0.726,-0.808,-0.892,-0.918,-0.823,-0.777,-0.764,-0.808,-0.867,-0.867,-0.931,-0.962,-0.995,-1.054,-1.11,-1.169,-1.213,-1.264,-1.328,-1.379,-1.405,-1.354,-1.341,-1.31,-1.315],
[-0.854,-0.887,-0.751,-0.849,-0.892,-0.82,-0.91,-0.797,-0.862,-0.841,-0.91,-0.931,-0.956,-0.982,-1.013,-1.092,-1.141,-1.187,-1.238,-1.29,-1.341,-1.354,-1.341,-1.285,-1.32,-1.315,-1.285],
[-0.726,-0.849,-0.99,-0.618,-0.802,-0.72,-0.669,-0.861,-0.808,-0.913,-0.777,-0.879,-0.9,-0.944,-0.987,-1.051,-1.123,-1.182,-1.246,-1.297,-1.341,-1.361,-1.315,-1.397,-1.302,-1.328,-1.269]];
const ERR_H = [
[0.04,0.04,0.05,0.04,0.035,0.03,0.03,0.03,0.03,null,null,null,null,null,null,null,null,null,null,null,null,null,null,null,null,0.06,0.13],
[0.06,0.08,0.05,0.05,0.05,0.04,0.04,0.04,0.04],
[0.06,0.07,0.06,0.05,0.05,0.04,0.04,0.04,0.04],
[0.07,0.08,0.07,0.06,0.05,0.045,0.04,0.04,0.04],
[0.115,0.1,0.09,0.07,0.06,0.05,0.045,0.04,0.04],
[0.2,0.15,0.1,0.08,0.07,0.06,0.05,0.045,0.04],
[0.12,0.12,0.1,0.08,0.07,0.06,0.05,0.045,0.04],
[0.13,0.1,0.147,0.128,0.1,0.09,0.06,0.05,0.045,0.04,0.035,0.03]];
const CTRL_H = [
[-1.328,-1.336,-1.354,-1.285,-1.328,-1.372,-1.295,-1.302,-1.346,-1.32,-1.31,-1.31,-1.31,-1.305,-1.305,-1.302,-1.302,-1.307,-1.31,-1.31,-1.313,-1.307,-1.31,-1.70,-2.046],
[-1.32,-1.34,-1.52,-1.32,-1.34,-1.35,-1.37,-1.37,-1.37,-1.38,-1.37,-1.38,-1.38,-1.37,-1.37,-1.37,-1.37,-1.37,-1.36,-1.36,-1.36,-1.36,-1.35,-1.35,-1.35,-1.34],
[-1.42,-1.35,-1.44,-1.45,-1.38,-1.40,-1.37,-1.42,-1.42,-1.40,-1.40,-1.39,-1.39,-1.39,-1.39,-1.39,-1.39,-1.38,-1.38,-1.38,-1.38,-1.37,-1.37,-1.36,-1.35,-1.34],
[-1.62,-1.42,-1.42,-1.47,-1.38,-1.40,-1.38,-1.40,-1.40,-1.40,-1.41,-1.41,-1.40,-1.40,-1.40,-1.40,-1.40,-1.39,-1.39,-1.39,-1.38,-1.38,-1.37,-1.36,-1.35,-1.34],
[-1.56,-1.42,-1.36,-1.46,-1.37,-1.39,-1.38,-1.42,-1.40,-1.41,-1.41,-1.40,-1.40,-1.41,-1.41,-1.41,-1.40,-1.40,-1.40,-1.39,-1.39,-1.38,-1.37,-1.36,-1.35,-1.33],
[-1.23,-1.40,-1.42,-1.35,-1.35,-1.35,-1.45,-1.42,-1.43,-1.40,-1.42,-1.43,-1.42,-1.42,-1.42,-1.42,-1.41,-1.41,-1.41,-1.40,-1.40,-1.39,-1.38,-1.37,-1.36,-1.34],
[-1.38,-1.40,-1.30,-1.27,-1.38,-1.40,-1.49,-1.41,-1.50,-1.41,-1.40,-1.49,-1.37,-1.41,-1.41,-1.42,-1.42,-1.42,-1.42,-1.42,-1.41,-1.40,-1.38,-1.36,-1.35,-1.33],
[-1.444,-1.259,-1.58,-1.367,-1.418,-1.438,-1.44,-1.456,-1.44,-1.43,-1.43,-1.43,-1.43,-1.43,-1.43,-1.44,-1.43,-1.43,-1.42,-1.42,-1.42,-1.40,-1.36,-1.34,-1.34,-1.33]];

const Z_I_CASE = [-0.84,-0.832,-0.856,-0.849,-0.884,-0.863,-0.864,-0.87,-0.872,-0.918,-0.944,-0.951,-1.018,-1.051,-1.105,-1.17,-1.238,-1.309,-1.37,-1.429,-1.471,-1.495,-1.506,-1.484,-1.458,-1.427,-1.386];
const Z_I_CONTROL = [-1.366,-1.366,-1.365,-1.365,-1.364,-1.364,-1.363,-1.362,-1.361,-1.360,-1.359,-1.358,-1.357,-1.356,-1.354,-1.352,-1.349,-1.346,-1.343,-1.341,-1.339,-1.337,-1.335,-1.332,-1.330,-1.327,-1.324];
const FIT_FLAT_T = [0.0114, 0.0918];
const FIT_FLAT_Z = [-0.866, -0.866];
const FIT_SLOPE_T = [0.204, 1.33];
const FIT_SLOPE_Z = [-0.925, -1.35];
const FIT_BAND_T = [0.204, 0.30];
const FIT_BAND_Z = [-0.925, -0.996];

// ---------------- STYLE / LAYOUT ----------------
const W = 1340, H = 991;
const FONT = 'Liberation Sans, Arial, Helvetica, sans-serif';
const PAL = ['#B2182B','#D6604D','#F4A582','#FDDBC7','#D1E5F0','#92C5DE','#4393C3','#2166AC'];
const GRID = '#E9E9E9';
const XR = [-2.09, 1.147];
const CASE_COL = '#F8766D', CTRL_COL = '#00BFC4';
const MSIZE = 8.2;

const PANELS = [
 {title:'A. Recovery rate tuning (λ)', leg:'λ', labels:LAB_A, z:Z_A, err:ERR_A, ctrl:CTRL_A,
  x0:39.4, x1:360.6, top:35, bot:293, yr:[-1.5368,-0.7805], dtick:0.2, tick0:-0.8, fmt:'.1f',
  keyX:390, legY:107, legTX:380, legTY:82, zx:12.3, zy:150, ttlY:13, xtY:314.3},
 {title:'B. Survival effect strength tuning (β)', leg:'β', labels:LAB_B, z:Z_B, err:ERR_B, ctrl:CTRL_B,
  x0:485.1, x1:804.2, top:35, bot:293, yr:[-1.7967,-0.5046], dtick:0.25, tick0:-0.75, fmt:'.2f',
  keyX:833.3, legY:107.5, legTX:823, legTY:80, zx:455.7, zy:151.5, ttlY:13, xtY:314.3},
 {title:'C. Drift rate tuning with slow recovery (μ<sub>t</sub>)', leg:'μ<sub>t</sub>', labels:LAB_C, z:Z_C, err:ERR_C, ctrl:CTRL_C,
  x0:925.3, x1:1239.3, top:35, bot:293, yr:[-1.7495,-0.085], dtick:0.5, tick0:-0.5, fmt:'.1f',
  keyX:1267.7, legY:106.7, legTX:1258, legTY:80, zx:898.3, zy:150, ttlY:13, xtY:314.3},
 {title:'D. Drift rate tuning with fast recovery (μ<sub>t</sub>)', leg:'μ<sub>t</sub>', labels:LAB_D, z:Z_D, err:ERR_D, ctrl:CTRL_D,
  x0:39.6, x1:352.9, top:367, bot:625, yr:[-1.7647,-0.3517], dtick:0.3, tick0:-0.6, fmt:'.1f',
  keyX:381, legY:439, legTX:372, legTY:412, zx:12.3, zy:483, ttlY:345, xtY:647.3},
 {title:'E. Noise strength tuning with slow recovery (σ)', leg:'σ', labels:LAB_E, z:Z_E, err:ERR_E, ctrl:CTRL_E,
  x0:475.7, x1:808.8, top:367, bot:625, yr:[-2.4808,1.7486], dtick:1, tick0:0, fmt:'',
  keyX:837.3, legY:436.7, legTX:827, legTY:412, zx:455.7, zy:483, ttlY:345, xtY:647.3},
 {title:'F. Noise strength tuning with fast recovery (σ)', leg:'σ', labels:LAB_F, z:Z_F, err:ERR_F, ctrl:CTRL_F,
  x0:925.2, x1:1252.5, top:367, bot:625, yr:[-1.649,-0.3426], dtick:0.4, tick0:-0.4, fmt:'.1f',
  keyX:1280.7, legY:436.7, legTX:1272, legTY:412, zx:898.3, zy:483, ttlY:345, xtY:647.3},
 {title:'G. Survival shape tuning (ν)', leg:'ν', labels:LAB_G, z:Z_G, err:ERR_G, ctrl:CTRL_G,
  x0:39.2, x1:365.8, top:699.3, bot:956.7, yr:[-2.271,-0.5436], dtick:0.5, tick0:-1.0, fmt:'.1f',
  keyX:394.3, legY:770, legTX:385, legTY:745, zx:12.3, zy:815, ttlY:677, xtY:979.3},
 {title:'H. Survival scale tuning (ζ)', leg:'ζ', labels:LAB_H, z:Z_H, err:ERR_H, ctrl:CTRL_H,
  x0:481.8, x1:800.4, top:699.3, bot:956.7, yr:[-2.2646,-0.2846], dtick:0.5, tick0:-0.5, fmt:'.1f',
  keyX:829.3, legY:773.3, legTX:820, legTY:746, zx:455.7, zy:816, ttlY:677, xtY:979.3},
 {title:'I. Feature breakdown', leg:null,
  x0:928.7, x1:1228.7, top:695, bot:956.7, yr:[-1.75,-0.546], dtick:0.25, tick0:-0.75, fmt:'.2f',
  zx:898.3, zy:813, ttlY:676, xtY:979.3}
];

const px = x => x / W;
const py = y => 1 - y / H;
const traces = [];
const shapes = [];
const annotations = [];
const layout = {
  width: W, height: H, margin: {l:0, r:0, t:0, b:0},
  paper_bgcolor: '#ffffff', plot_bgcolor: 'rgba(0,0,0,0)',
  showlegend: false, font: {family: FONT, color: '#000'},
  shapes: shapes, annotations: annotations
};

function seg(x0, y0, x1, y1, color, width) {
  shapes.push({type:'line', xref:'paper', yref:'paper', x0:px(x0), y0:py(y0), x1:px(x1), y1:py(y1),
    line:{color:color || '#000', width: width || 1}, layer:'above'});
}
function text(str, x, y, size, opts) {
  annotations.push(Object.assign({text:str, xref:'paper', yref:'paper', x:px(x), y:py(y),
    xanchor:'left', yanchor:'middle', showarrow:false, font:{size:size, family:FONT, color:'#000'}}, opts || {}));
}
function arrowHead(xa, ya, xb, yb) {
  const ang = Math.atan2(yb - ya, xb - xa), L = 7.5, a = Math.PI / 7;
  [-1, 1].forEach(s => seg(xb, yb, xb - L * Math.cos(ang + s * a), yb - L * Math.sin(ang + s * a), '#000', 1));
}
function arrow(x0, y0, x1, y1, both) {
  seg(x0, y0, x1, y1, '#000', 1);
  arrowHead(x0, y0, x1, y1);
  if (both) arrowHead(x1, y1, x0, y0);
}

PANELS.forEach((p, idx) => {
  const n = idx + 1;
  const xa = n === 1 ? 'x' : 'x' + n, ya = n === 1 ? 'y' : 'y' + n;
  const xk = n === 1 ? 'xaxis' : 'xaxis' + n, yk = n === 1 ? 'yaxis' : 'yaxis' + n;
  layout[xk] = {
    type:'log', domain:[px(p.x0), px(p.x1)], range:XR, anchor:ya,
    tickmode:'array', tickvals:[0.01, 0.1, 1, 10], ticktext:['0.01','0.10','1.00','10.00'],
    ticks:'', showline:false, zeroline:false, showgrid:true, gridcolor:GRID, gridwidth:1.2,
    minor:{tickmode:'array', tickvals:[0.03162, 0.3162, 3.162], showgrid:true, gridcolor:GRID, gridwidth:0.7, ticks:''},
    tickfont:{size:7, color:'#4d4d4d', family:FONT}, ticklabelstandoff:3, fixedrange:true
  };
  layout[yk] = {
    domain:[py(p.bot), py(p.top)], range:p.yr, anchor:xa,
    tickmode:'linear', tick0:p.tick0, dtick:p.dtick, tickformat:p.fmt,
    ticks:'', showline:false, zeroline:false, showgrid:true, gridcolor:GRID, gridwidth:1.2,
    minor:{tick0:p.tick0, dtick:p.dtick / 2, showgrid:true, gridcolor:GRID, gridwidth:0.7, ticks:''},
    tickfont:{size:7, color:'#4d4d4d', family:FONT}, ticklabelstandoff:4, fixedrange:true
  };

  // titles
  text(p.title, p.x0 + 0.5, p.ttlY, 19);
  text('z', p.zx, p.zy, 15.5, {xanchor:'center'});
  text('Time−to−event', (p.x0 + p.x1) / 2, p.xtY, 15.5, {xanchor:'center'});

  // log ticks (annotation_logticks style)
  const xpaper = v => px(p.x0) + (Math.log10(v) - XR[0]) / (XR[1] - XR[0]) * (px(p.x1) - px(p.x0));
  for (let d = -3; d <= 1; d++) {
    for (let m = 1; m <= 9; m++) {
      const v = m * Math.pow(10, d), lv = Math.log10(v);
      if (lv < XR[0] || lv > XR[1]) continue;
      const len = m === 1 ? 11.5 : (m === 5 ? 7.7 : 3.9);
      shapes.push({type:'line', xref:'paper', yref:'paper', x0:xpaper(v), x1:xpaper(v),
        y0:py(p.bot), y1:py(p.bot - len), line:{color:'#000', width:0.9}, layer:'above'});
    }
  }

  if (p.z) {
    // point ranges
    p.z.forEach((ys, i) => {
      traces.push({type:'scatter', mode:'markers', x:TIME, y:ys, xaxis:xa, yaxis:ya,
        hoverinfo:'skip', cliponaxis:false,
        marker:{size:MSIZE, color:PAL[i], line:{width:0}},
        error_y:{type:'data', array:p.err[i], visible:true, color:PAL[i], thickness:1.1, width:0}});
    });
    // control lines
    p.ctrl.forEach((ys, i) => {
      traces.push({type:'scatter', mode:'lines', x:TIME.slice(0, ys.length), y:ys, xaxis:xa, yaxis:ya,
        hoverinfo:'skip', line:{color:PAL[i], width:0.9}});
    });
    // legend (drawn as key glyphs + text)
    text(p.leg, p.legTX, p.legTY, 16);
    p.labels.forEach((lab, i) => {
      const cy = p.legY + i * 19.9, cx = p.keyX;
      seg(cx - 8.3, cy, cx + 8.3, cy, PAL[i], 1);
      seg(cx, cy - 8.3, cx, cy + 8.3, PAL[i], 1.1);
      shapes.push({type:'circle', xref:'paper', yref:'paper', x0:px(cx - 4.1), x1:px(cx + 4.1),
        y0:py(cy + 4.1), y1:py(cy - 4.1), fillcolor:PAL[i], line:{width:0}, layer:'above'});
      text(lab, cx + 17, cy, 14.5);
    });
  } else {
    // Panel I
    traces.push({type:'scatter', mode:'lines', x:TIME, y:Z_I_CONTROL, xaxis:xa, yaxis:ya,
      hoverinfo:'skip', line:{color:CTRL_COL, width:2.8}});
    traces.push({type:'scatter', mode:'lines', x:FIT_BAND_T, y:FIT_BAND_Z, xaxis:xa, yaxis:ya,
      hoverinfo:'skip', line:{color:'rgba(248,118,109,0.3)', width:6}});
    traces.push({type:'scatter', mode:'lines', x:FIT_FLAT_T, y:FIT_FLAT_Z, xaxis:xa, yaxis:ya,
      hoverinfo:'skip', line:{color:CASE_COL, width:3}});
    traces.push({type:'scatter', mode:'lines', x:FIT_SLOPE_T, y:FIT_SLOPE_Z, xaxis:xa, yaxis:ya,
      hoverinfo:'skip', line:{color:CASE_COL, width:3}});
    traces.push({type:'scatter', mode:'markers', x:TIME, y:Z_I_CASE, xaxis:xa, yaxis:ya,
      hoverinfo:'skip', marker:{size:MSIZE, color:CASE_COL, line:{width:0}}});

    text('High risk saturation', 946.7, 717.3, 19);
    text('Log−linear regime', 1072.3, 750.7, 19);
    text('Gap', 984, 826.7, 19);
    text('<b>Horizon time, t<sub>h</sub></b>', 1028.3, 912.3, 18.5);
    arrow(1016, 734, 987, 760.5, false);
    arrow(1138.7, 761.7, 1108.5, 815.5, false);
    arrow(981.7, 783, 981.7, 870, true);
    arrow(1094, 902.3, 1123.3, 868.3, false);

    // group legend
    text('group', 1247.3, 803.3, 16);
    const keys = [[CASE_COL, 'rgba(248,118,109,0.62)', 818.3, LAB_I[0]], [CTRL_COL, 'rgba(0,191,196,0.62)', 838, LAB_I[1]]];
    keys.forEach(k => {
      const [col, fill, y0, lab] = k;
      shapes.push({type:'rect', xref:'paper', yref:'paper', x0:px(1247.3), x1:px(1266.8), y0:py(y0 + 19.6), y1:py(y0),
        fillcolor:fill, line:{width:0}, layer:'above'});
      const cx = 1257, cy = y0 + 9.8;
      seg(1247.3, cy, 1266.8, cy, col, 2);
      seg(cx, y0 + 1, cx, y0 + 18.6, col, 1.4);
      shapes.push({type:'circle', xref:'paper', yref:'paper', x0:px(cx - 4), x1:px(cx + 4),
        y0:py(cy + 4), y1:py(cy - 4), fillcolor:col, line:{width:0}, layer:'above'});
      text(lab, 1275.7, cy, 14.5);
    });
  }
});

Plotly.newPlot('chart', traces, layout, {staticPlot:true, displayModeBar:false});
</script>
</body></html>
